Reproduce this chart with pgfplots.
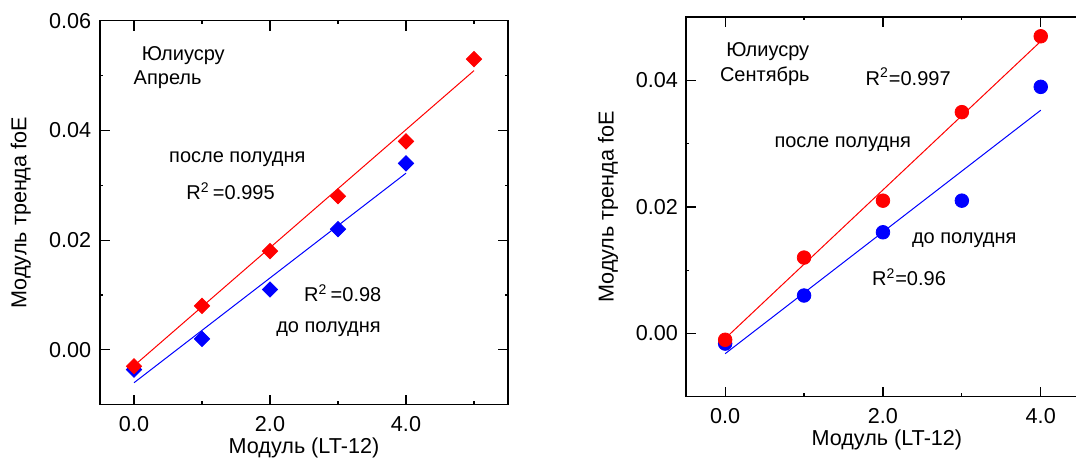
\documentclass[border=0pt]{standalone}
\usepackage{fontspec}
\setmainfont{Liberation Sans}
\usepackage{pgfplots}
\pgfplotsset{compat=1.18}
\definecolor{pred}{RGB}{255,0,0}
\definecolor{pblue}{RGB}{0,0,255}
\pgfplotsset{
 common/.style={
  scale only axis,
  tick align=inside,
  major tick length=5pt, minor tick length=1.6pt,
  axis line style={line width=0.8pt, black},
  every tick/.style={black, line width=0.6pt},
  tick label style={font=\fontsize{10.8}{13}\selectfont},
  label style={font=\fontsize{10.8}{13}\selectfont},
  /pgf/number format/assume math mode=true,
  scaled y ticks=false,
  yticklabel style={/pgf/number format/fixed, /pgf/number format/fixed zerofill, /pgf/number format/precision=2},
  xticklabel style={/pgf/number format/fixed, /pgf/number format/fixed zerofill, /pgf/number format/precision=1, yshift=-2.5pt},
  xtick={0,2,4},
  ymin=-0.01,
  minor ytick={-0.01,0.01,0.03,0.05},
  clip=false,
  every node/.append style={font=\fontsize{10.8}{13}\selectfont},
  xlabel={Модуль (LT-12)},
  ylabel={Модуль тренда foE},
 },
}
\begin{document}
\begin{tikzpicture}
\useasboundingbox (0,0) rectangle (538pt,229pt);
\clip (0,0) rectangle (538pt,229pt);
% ---------------- left panel: April
\begin{axis}[common, at={(50pt,26.65pt)}, anchor=south west,
  width=204pt, height=192pt,
  xmin=-0.5, xmax=5.5, ymax=0.06,
  ytick={0,0.02,0.04,0.06}, minor xtick={1,3,5},
  yticklabel style={xshift=-0.9pt},
  xlabel style={at={(axis description cs:0.5,-0.113)}, anchor=center},
  ylabel style={at={(axis description cs:-0.194,0.5)}, anchor=center}]
\addplot[pblue, line width=0.5pt, no marks] coordinates {(0,-0.006) (4,0.0322)};
\addplot[pred, line width=0.5pt, no marks] coordinates {(0,-0.0029) (5,0.0509)};
\addplot[only marks, mark=square*, mark size=2.7pt, mark options={rotate=45, draw=pblue, fill=pblue}]
 coordinates {(0,-0.0036) (1,0.002) (2,0.011) (3,0.022) (4,0.034)};
\addplot[only marks, mark=square*, mark size=2.7pt, mark options={rotate=45, draw=pred, fill=pred}]
 coordinates {(0,-0.003) (1,0.008) (2,0.018) (3,0.028) (4,0.038) (5,0.053)};
\node[anchor=west, inner sep=0pt] at (axis cs:0.11,0.0537) {Юлиусру};
\node[anchor=west, inner sep=0pt] at (axis cs:-0.01,0.0492) {Апрель};
\node at (axis cs:1.52,0.0347) {после полудня};
\node at (axis cs:1.42,0.0289) {R\textsuperscript{2}\,=0.995};
\node at (axis cs:3.07,0.0103) {R\textsuperscript{2}\,=0.98};
\node at (axis cs:2.86,0.00377) {до полудня};
\end{axis}
% ---------------- right panel: September
\begin{axis}[common, at={(342.85pt,30.65pt)}, anchor=south west,
  width=197.25pt, height=189.7pt,
  xmin=-0.5, xmax=4.5, ymax=0.05,
  ytick={0,0.02,0.04}, minor xtick={1,3},
  ytick pos=left,
  yticklabel style={xshift=-0.4pt},
  xlabel style={at={(axis description cs:0.51,-0.114)}, anchor=center},
  ylabel style={at={(axis description cs:-0.197,0.5)}, anchor=center}]
\addplot[pblue, line width=0.5pt, no marks] coordinates {(0,-0.0032) (4,0.0353)};
\addplot[pred, line width=0.5pt, no marks] coordinates {(0,-0.0008) (4,0.0462)};
\addplot[only marks, mark=*, mark size=3.4pt, mark options={draw=pblue, fill=pblue}]
 coordinates {(0,-0.0016) (1,0.006) (2,0.016) (3,0.021) (4,0.039)};
\addplot[only marks, mark=*, mark size=3.4pt, mark options={draw=pred, fill=pred}]
 coordinates {(0,-0.001) (1,0.012) (2,0.021) (3,0.035) (4,0.047)};
\node[anchor=west, inner sep=0pt] at (axis cs:0.01,0.0445) {Юлиусру};
\node[anchor=west, inner sep=0pt] at (axis cs:-0.07,0.0406) {Сентябрь};
\node at (axis cs:2.32,0.0406) {R\textsuperscript{2}=0.997};
\node at (axis cs:1.49,0.0299) {после полудня};
\node at (axis cs:3.03,0.0148) {до полудня};
\node at (axis cs:2.33,0.0089) {R\textsuperscript{2}=0.96};
\end{axis}
\end{tikzpicture}
\end{document}
